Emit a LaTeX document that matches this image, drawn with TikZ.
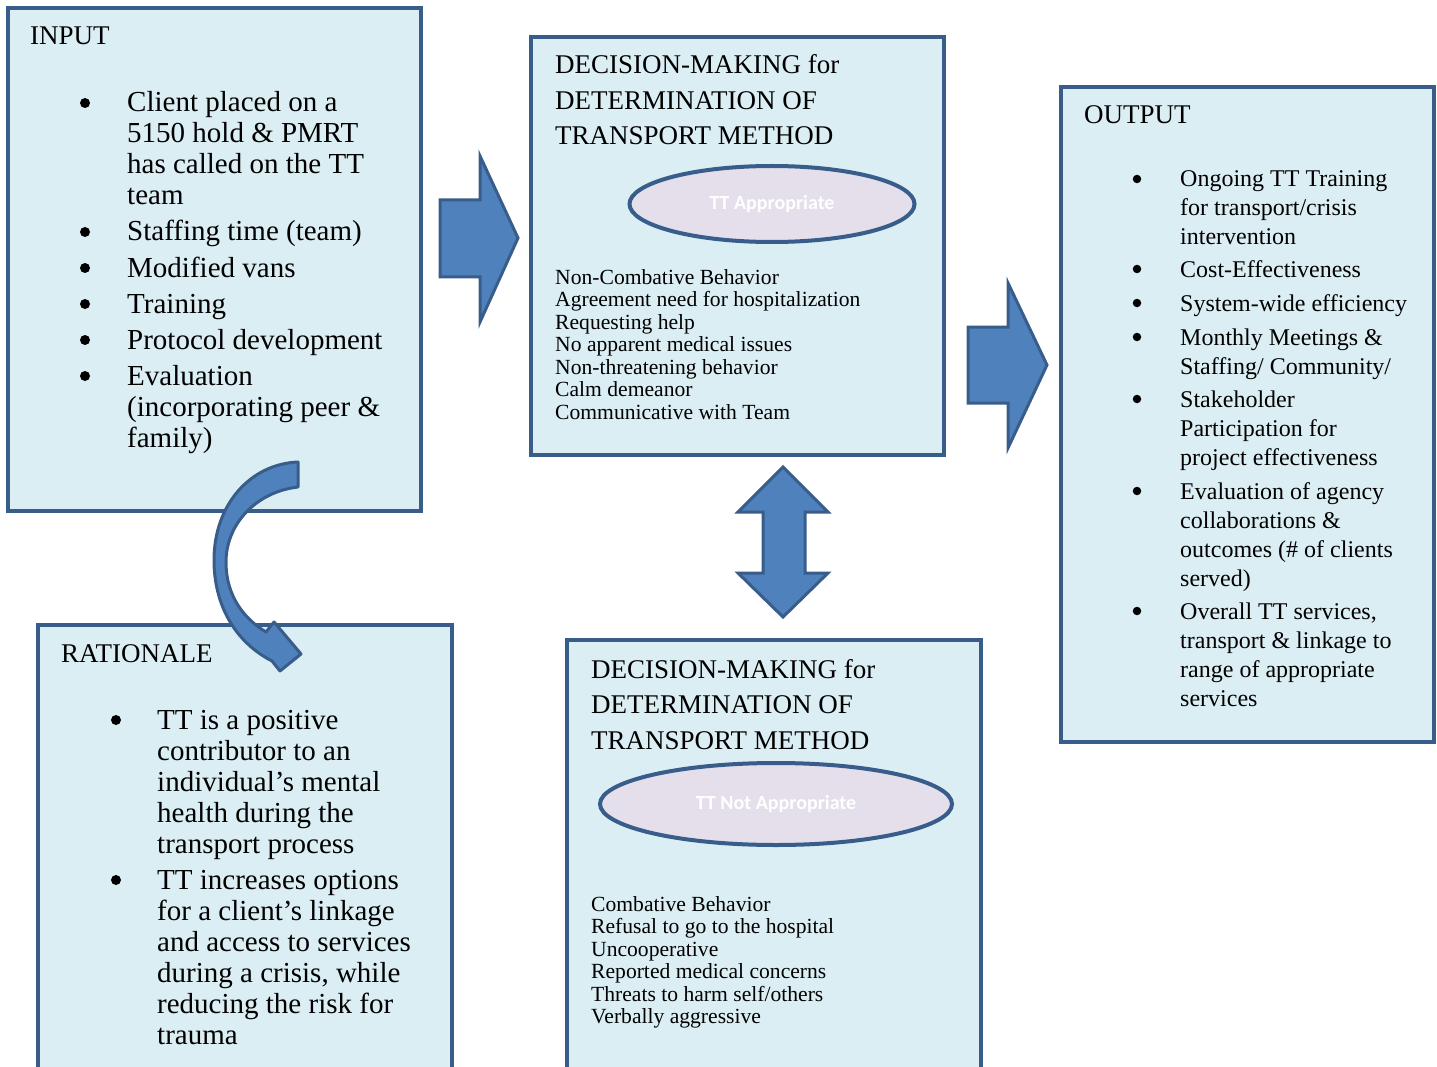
\documentclass[tikz,border=0pt]{standalone}
\usepackage{fontspec}
\setmainfont{Liberation Serif}
\newfontfamily\calib{Carlito}
\usetikzlibrary{shapes.geometric}
\definecolor{bdr}{HTML}{385D8A}
\definecolor{boxfill}{HTML}{DBEEF4}
\definecolor{arrfill}{HTML}{4F81BD}
\definecolor{ellfill}{HTML}{E5DFEC}
\tikzset{
  box/.style={draw=bdr, fill=boxfill, line width=3.5pt},
  blockarrow/.style={draw=bdr, fill=arrfill, line width=3pt, line join=miter},
  ttl/.style={anchor=base west, inner sep=0pt, align=left, font=\fontsize{27}{35.5}\selectfont},
  big/.style={anchor=base west, inner sep=0pt, align=left, font=\fontsize{29}{31}\selectfont},
  outtxt/.style={anchor=base west, inner sep=0pt, align=left, font=\fontsize{24}{29}\selectfont},
  small/.style={anchor=base west, inner sep=0pt, align=left, font=\fontsize{21.6}{22.5}\selectfont},
  bul/.style={circle, fill=black, inner sep=0pt, minimum size=10pt},
  obul/.style={circle, fill=black, inner sep=0pt, minimum size=8.5pt},
  oval/.style={ellipse, draw=bdr, fill=ellfill, line width=4pt, inner sep=0pt,
    font=\calib\bfseries\fontsize{20}{22}\selectfont, text=white}
}
\begin{document}
\begin{tikzpicture}[x=1pt,y=-1pt]
\useasboundingbox (0,0) rectangle (1437,1067);
\clip (0,0) rectangle (1437,1067);
% boxes
\draw[box] (8,8) rectangle (421,511);
\draw[box] (38,625) rectangle (452,1080);
\draw[box] (531,37) rectangle (944,455);
\draw[box] (567,640) rectangle (981,1080);
\draw[box] (1061,87) rectangle (1434,742);

% INPUT (multi-line nodes are placed by the baseline of their last line)
\node[ttl] (inT) at (30,45) {INPUT};
\node[bul] (ib1) at (85,103) {};
\node[big] (i1) at (127,205) {Client placed on a\\5150 hold \& PMRT\\has called on the TT\\team};
\node[bul] (ib2) at (85,232) {};
\node[big] (i2) at (127,241) {Staffing time (team)};
\node[bul] (ib3) at (85,268) {};
\node[big] (i3) at (127,277) {Modified vans};
\node[bul] (ib4) at (85,304) {};
\node[big] (i4) at (127,313) {Training};
\node[bul] (ib5) at (85,340) {};
\node[big] (i5) at (127,349) {Protocol development};
\node[bul] (ib6) at (85,376) {};
\node[big] (i6) at (127,447) {Evaluation\\(incorporating peer \&\\family)};

% RATIONALE
\node[ttl] (raT) at (61,662) {RATIONALE};
\node[bul] (rb1) at (116,720) {};
\node[big] (r1) at (157,853) {TT is a positive\\contributor to an\\individual’s mental\\health during the\\transport process};
\node[bul] (rb2) at (116,880) {};
\node[big] (r2) at (157,1044) {TT increases options\\for a client’s linkage\\and access to services\\during a crisis, while\\reducing the risk for\\trauma};

% DECISION top
\node[ttl] (d1T) at (555,145) {DECISION-MAKING for\\DETERMINATION OF\\TRANSPORT METHOD};
\node[oval, minimum width=285pt, minimum height=76pt] (e1) at (772,204) {TT Appropriate};
\node[small] (d1L) at (555,419) {Non-Combative Behavior\\Agreement need for hospitalization\\Requesting help\\No apparent medical issues\\Non-threatening behavior\\Calm demeanor\\Communicative with Team};

% DECISION bottom
\node[ttl] (d2T) at (591,749) {DECISION-MAKING for\\DETERMINATION OF\\TRANSPORT METHOD};
\node[oval, minimum width=352pt, minimum height=82pt] (e2) at (776,804) {TT Not Appropriate};
\node[small] (d2L) at (591,1023.5) {Combative Behavior\\Refusal to go to the hospital\\Uncooperative\\Reported medical concerns\\Threats to harm self/others\\Verbally aggressive};

% OUTPUT
\node[ttl] (oT) at (1084,124) {OUTPUT};
\node[obul] (ob1) at (1137,179) {};
\node[outtxt] (o1) at (1180,245) {Ongoing TT Training\\for transport/crisis\\intervention};
\node[obul] (ob2) at (1137,269) {};
\node[outtxt] (o2) at (1180,277) {Cost-Effectiveness};
\node[obul] (ob3) at (1137,303) {};
\node[outtxt] (o3) at (1180,311) {System-wide efficiency};
\node[obul] (ob4) at (1137,337) {};
\node[outtxt] (o4) at (1180,374) {Monthly Meetings \&\\Staffing/ Community/};
\node[obul] (ob5) at (1137,399) {};
\node[outtxt] (o5) at (1180,465) {Stakeholder\\Participation for\\project effectiveness};
\node[obul] (ob6) at (1137,491) {};
\node[outtxt] (o6) at (1180,586) {Evaluation of agency\\collaborations \&\\outcomes (\# of clients\\served)};
\node[obul] (ob7) at (1137,611) {};
\node[outtxt] (o7) at (1180,706) {Overall TT services,\\transport \& linkage to\\range of appropriate\\services};

% block arrows
\draw[blockarrow] (440,200) -- (480,200) -- (480,156) -- (518,238) -- (480,322) -- (480,277) -- (440,277) -- cycle;
\draw[blockarrow] (968,327) -- (1008,327) -- (1008,283) -- (1047,365) -- (1008,448) -- (1008,403) -- (968,403) -- cycle;
\draw[blockarrow] (783,467) -- (828,512) -- (805,512) -- (805,573) -- (828,573) -- (783,617) -- (738,573) -- (763,573) -- (763,512) -- (738,512) -- cycle;
% curved arrow
\draw[blockarrow, line join=round] (298,462) -- (298,487)
  .. controls (255,492) and (226,525) .. (226,562)
  .. controls (226,598) and (246,620) .. (266,632)
  -- (274,622) -- (301,654) -- (280,671) -- (272,661)
  .. controls (235,642) and (214,605) .. (214,560)
  .. controls (214,505) and (250,464) .. (298,462) -- cycle;
\end{tikzpicture}
\end{document}
